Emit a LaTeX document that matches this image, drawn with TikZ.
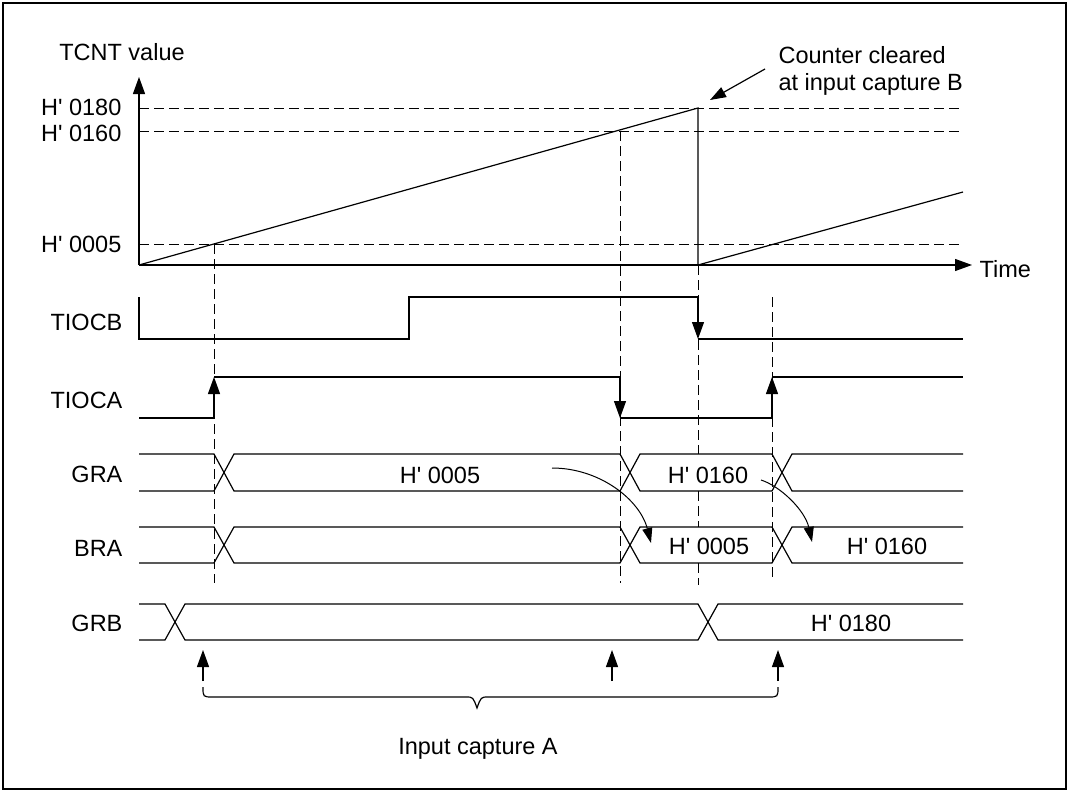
\documentclass[tikz,border=0pt]{standalone}
\usepackage{fontspec}
\setmainfont{Liberation Sans}[Ligatures=TeXOff]
\usetikzlibrary{arrows.meta}
\begin{document}
\begin{tikzpicture}[x=1pt,y=-1pt,line width=1.2pt,
  lbl/.style={font=\fontsize{23.5}{28}\selectfont,inner sep=0pt},
  dsh/.style={dash pattern=on 10pt off 5pt,line width=1pt},
  tri/.style={-{Triangle[length=17pt,width=12pt]}},
  ctri/.style={-{Triangle[length=15pt,width=10pt]},line width=1pt}]
\useasboundingbox (0,0) rectangle (1074,792);
\draw[line width=1.5pt] (3,3) rectangle (1066,789);

% axes
\coordinate (O) at (139,265);
\coordinate (ytop) at (139,77);
\coordinate (xend) at (972,265);
\draw[tri] (O) -- (ytop);
\draw[tri] (O) -- (xend);
\node[lbl,anchor=base] (tcnt) at (122,61) {TCNT value};
\node[lbl,anchor=base west] (time) at (979,277) {Time};

% levels
\node[lbl,anchor=base east] (l180) at (122,115) {H' 0180};
\node[lbl,anchor=base east] (l160) at (122,141) {H' 0160};
\node[lbl,anchor=base east] (l005) at (122,252) {H' 0005};
\draw[dsh] (139,108) -- (963,108);
\draw[dsh] (139,131) -- (963,131);
\draw[dsh] (139,244) -- (963,244);

% ramp
\coordinate (top) at (698,108);
\coordinate (clr) at (698,265);
\coordinate (r2) at (963,192);
\draw (O) -- (top) -- (clr) -- (r2);

% callout
\node[lbl,anchor=base west] (c1) at (778,64) {Counter cleared};
\node[lbl,anchor=base west] (c2) at (778,91) {at input capture B};
\coordinate (ca) at (765,69);
\coordinate (cb) at (710,100);
\draw[-{Triangle[length=16pt,width=11pt]}] (ca) -- (cb);

% vertical dashed guides
\draw[dsh] (214,244) -- (214,583);
\draw[dsh] (620,131) -- (620,583);
\draw[dsh] (698,265) -- (698,454);
\draw[dsh] (698,491) -- (698,527);
\draw[dsh] (698,563) -- (698,585);
\draw[dsh] (772,297) -- (772,580);

% signal labels
\node[lbl,anchor=base east] (tiocb) at (123,330) {TIOCB};
\node[lbl,anchor=base east] (tioca) at (123,408) {TIOCA};
\node[lbl,anchor=base east] (gra) at (123,482) {GRA};
\node[lbl,anchor=base east] (bra) at (123,556) {BRA};
\node[lbl,anchor=base east] (grb) at (123,631) {GRB};

% TIOCB
\draw (139,297) -- (139,339) -- (409,339) -- (409,297) -- (698,297);
\draw[tri] (698,297) -- (698,339);
\draw (698,339) -- (963,339);

% TIOCA
\draw (139,418) -- (214,418);
\draw[tri] (214,418) -- (214,377);
\draw (214,377) -- (620,377);
\draw[tri] (620,377) -- (620,418);
\draw (620,418) -- (772,418);
\draw[tri] (772,418) -- (772,377);
\draw (772,377) -- (963,377);

% GRA
\draw (139,454) -- (214,454) -- (234,491) -- (620,491) -- (640,454) -- (772,454) -- (792,491) -- (963,491);
\draw (139,491) -- (214,491) -- (234,454) -- (620,454) -- (640,491) -- (772,491) -- (792,454) -- (963,454);
% BRA
\draw (139,527) -- (214,527) -- (234,563) -- (620,563) -- (640,527) -- (772,527) -- (792,563) -- (963,563);
\draw (139,563) -- (214,563) -- (234,527) -- (620,527) -- (640,563) -- (772,563) -- (792,527) -- (963,527);
% GRB
\draw (139,604) -- (165,604) -- (185,640) -- (698,640) -- (718,604) -- (963,604);
\draw (139,640) -- (165,640) -- (185,604) -- (698,604) -- (718,640) -- (963,640);

% bus values
\node[lbl,anchor=base] (gra1) at (440,483) {H' 0005};
\node[lbl,anchor=base] (gra2) at (708,483) {H' 0160};
\node[lbl,anchor=base] (bra1) at (709,554) {H' 0005};
\node[lbl,anchor=base] (bra2) at (887,554) {H' 0160};
\node[lbl,anchor=base] (grb1) at (851,631) {H' 0180};

% transfer arrows
\coordinate (t1a) at (552,468);
\coordinate (t1b) at (651,543);
\draw[ctri] (t1a) .. controls (600,468) and (640,500) .. (t1b);
\coordinate (t2a) at (761,480);
\coordinate (t2b) at (812,542);
\draw[ctri] (t2a) .. controls (780,486) and (805,510) .. (t2b);

% input capture arrows
\draw[tri] (203,681) -- (203,650);
\draw[tri] (612,681) -- (612,650);
\draw[tri] (778,681) -- (778,650);

% brace
\draw (203,687) .. controls (203,697) .. (213,697) -- (466,697)
  .. controls (473,697) .. (477,708) .. controls (481,697) .. (488,697)
  -- (768,697) .. controls (778,697) .. (778,687);
\node[lbl,anchor=base] (ica) at (478,754) {Input capture A};
\end{tikzpicture}
\end{document}
